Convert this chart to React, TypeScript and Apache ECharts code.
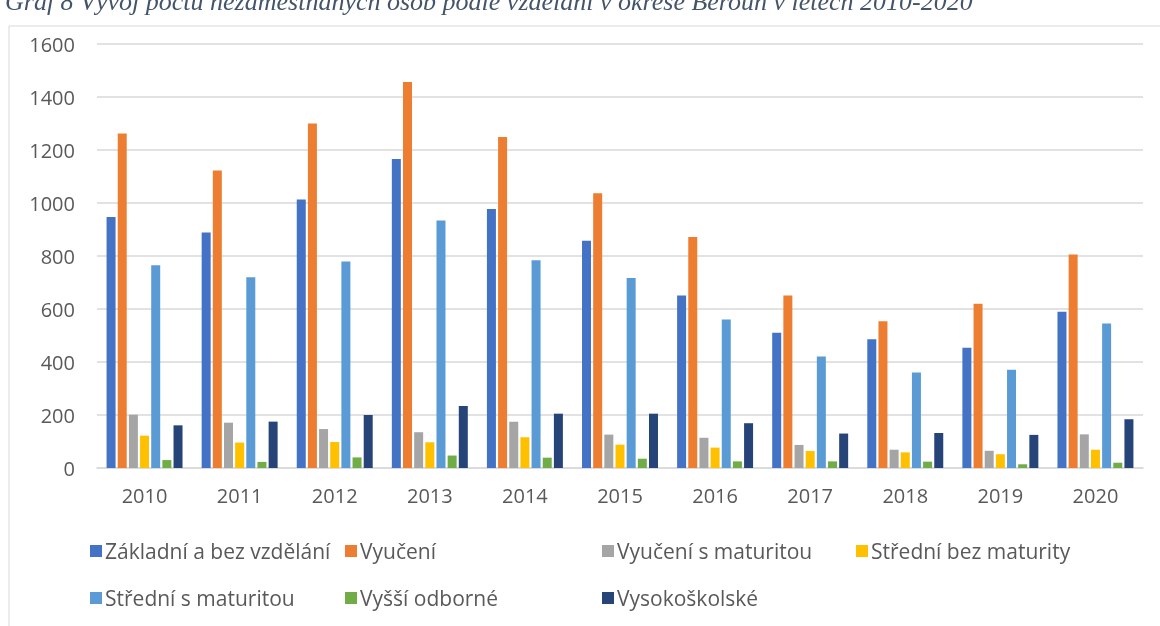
import React, { useEffect, useRef } from "react";
import * as echarts from "echarts";

const years = ["2010", "2011", "2012", "2013", "2014", "2015", "2016", "2017", "2018", "2019", "2020"];
const seriesNames = [
  "Základní a bez vzdělání",
  "Vyučení",
  "Vyučení s maturitou",
  "Střední bez maturity",
  "Střední s maturitou",
  "Vyšší odborné",
  "Vysokoškolské",
];
const zakladni = [947, 889, 1013, 1166, 977, 858, 651, 510, 486, 454, 590];
const vyuceni = [1262, 1123, 1300, 1457, 1249, 1037, 872, 651, 554, 620, 806];
const vyuceniMat = [201, 171, 147, 135, 175, 126, 114, 87, 69, 65, 127];
const stredniBez = [122, 96, 98, 97, 116, 88, 77, 64, 59, 52, 69];
const stredniMat = [765, 720, 779, 934, 784, 717, 560, 421, 360, 371, 545];
const vyssi = [30, 23, 40, 47, 39, 35, 25, 25, 24, 14, 20];
const vysoko = [161, 175, 200, 234, 205, 205, 169, 130, 132, 125, 184];
const colors = ["#4472C4", "#ED7D31", "#A5A5A5", "#FFC000", "#5B9BD5", "#70AD47", "#264478"];
const titleText = "Graf 8 Vývoj počtu nezaměstnaných osob podle vzdělání v okrese Beroun v letech 2010-2020";

export default function App() {
  const ref = useRef<HTMLDivElement>(null);
  useEffect(() => {
    if (!ref.current) return;
    const chart = echarts.init(ref.current, undefined, { renderer: "svg" });
    const allData = [zakladni, vyuceni, vyuceniMat, stredniBez, stredniMat, vyssi, vysoko];
    const font = "'Open Sans', sans-serif";
    const legendCols = [
      [seriesNames[0], seriesNames[4]],
      [seriesNames[1], seriesNames[5]],
      [seriesNames[2], seriesNames[6]],
      [seriesNames[3]],
    ];
    const legendLeft = [90, 345, 602, 856];
    chart.setOption({
      animation: false,
      color: colors,
      textStyle: { fontFamily: font },
      graphic: [
        {
          type: "rect",
          shape: { x: 9, y: 26, width: 1200, height: 700 },
          style: { fill: "none", stroke: "#d9d9d9", lineWidth: 1 },
          silent: true,
        },
        {
          type: "text",
          x: 5,
          y: 14,
          style: {
            text: titleText,
            font: "italic 26px 'Liberation Serif', 'Times New Roman', serif",
            fill: "#44546A",
            textVerticalAlign: "bottom",
            verticalAlign: "bottom",
          },
        },
      ],
      grid: { left: 97, right: 17, top: 44, bottom: 158, containLabel: false },
      xAxis: {
        type: "category",
        data: years,
        axisLine: { lineStyle: { color: "#d9d9d9", width: 1.5 } },
        axisTick: { show: false },
        axisLabel: { color: "#595959", fontSize: 20, margin: 17, fontFamily: font },
      },
      yAxis: {
        type: "value",
        min: 0,
        max: 1600,
        interval: 200,
        axisLine: { show: false },
        axisTick: { show: false },
        splitLine: { lineStyle: { color: "#d9d9d9", width: 1.5 } },
        axisLabel: {
          color: "#595959",
          fontSize: 20,
          margin: 22,
          fontFamily: font,
          formatter: (v: number) => String(v),
        },
      },
      legend: legendCols.map((col, i) => ({
        orient: "vertical",
        left: legendLeft[i],
        top: 540,
        data: col,
        icon: "rect",
        itemWidth: 12,
        itemHeight: 12,
        itemGap: 25,
        padding: 0,
        textStyle: { color: "#595959", fontSize: 21, fontFamily: font, lineHeight: 22, padding: [0, 0, 0, -2] },
        selectedMode: false,
      })),
      series: seriesNames.map((name, i) => ({
        name,
        type: "bar",
        data: allData[i],
        barWidth: 9,
        barGap: "24%",
        itemStyle: { color: colors[i] },
      })),
    });
    return () => chart.dispose();
  }, []);
  return <div ref={ref} style={{ position: "fixed", left: 0, top: 0, width: 1160, height: 626 }} />;
}
